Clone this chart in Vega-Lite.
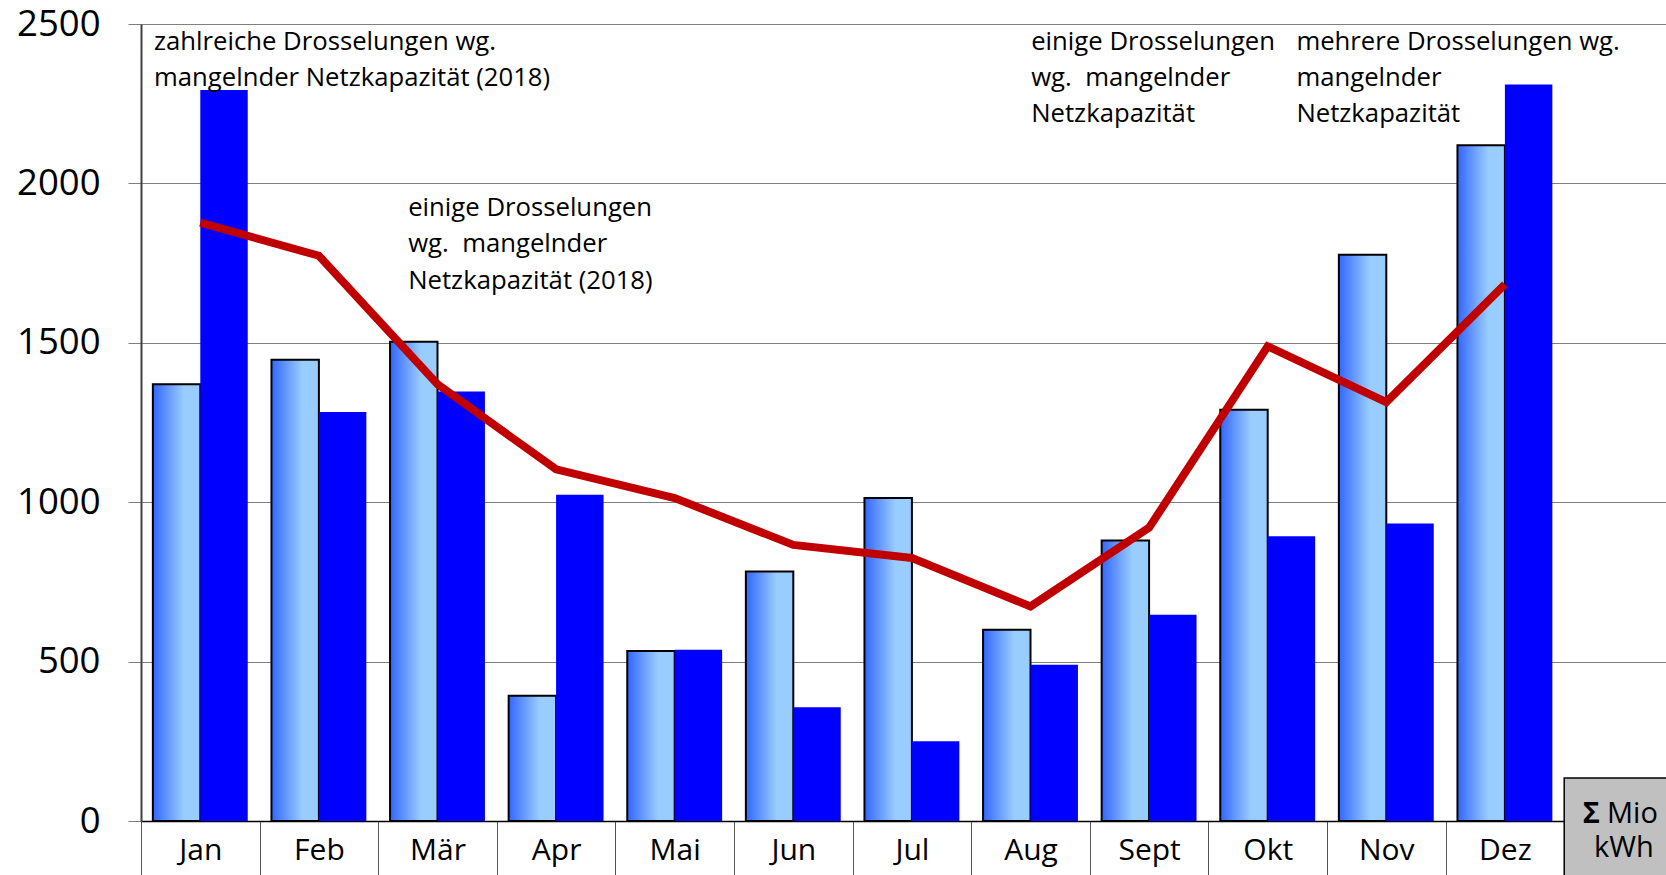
{
  "$schema": "https://vega.github.io/schema/vega-lite/v6.json",
  "width": 1525,
  "height": 797,
  "autosize": {"type": "none"},
  "padding": {"left": 141, "top": 24, "right": 0, "bottom": 54},
  "background": "white",
  "config": {
    "view": {"stroke": null},
    "font": "Open Sans",
    "text": {"font": "Open Sans", "color": "#000000"}
  },
  "datasets": {
    "bars": [
      {"month": "Jan", "series": "A", "value": 1370},
      {"month": "Jan", "series": "B", "value": 2293},
      {"month": "Feb", "series": "A", "value": 1447},
      {"month": "Feb", "series": "B", "value": 1283},
      {"month": "Mär", "series": "A", "value": 1503},
      {"month": "Mär", "series": "B", "value": 1347},
      {"month": "Apr", "series": "A", "value": 393},
      {"month": "Apr", "series": "B", "value": 1023},
      {"month": "Mai", "series": "A", "value": 533},
      {"month": "Mai", "series": "B", "value": 537},
      {"month": "Jun", "series": "A", "value": 783},
      {"month": "Jun", "series": "B", "value": 357},
      {"month": "Jul", "series": "A", "value": 1013},
      {"month": "Jul", "series": "B", "value": 250},
      {"month": "Aug", "series": "A", "value": 600},
      {"month": "Aug", "series": "B", "value": 490},
      {"month": "Sept", "series": "A", "value": 880},
      {"month": "Sept", "series": "B", "value": 647},
      {"month": "Okt", "series": "A", "value": 1290},
      {"month": "Okt", "series": "B", "value": 893},
      {"month": "Nov", "series": "A", "value": 1776},
      {"month": "Nov", "series": "B", "value": 933},
      {"month": "Dez", "series": "A", "value": 2120},
      {"month": "Dez", "series": "B", "value": 2310}
    ],
    "line": [
      {"month": "Jan", "value": 1877},
      {"month": "Feb", "value": 1773},
      {"month": "Mär", "value": 1370},
      {"month": "Apr", "value": 1103},
      {"month": "Mai", "value": 1013},
      {"month": "Jun", "value": 866},
      {"month": "Jul", "value": 825},
      {"month": "Aug", "value": 673},
      {"month": "Sept", "value": 920},
      {"month": "Okt", "value": 1489},
      {"month": "Nov", "value": 1314},
      {"month": "Dez", "value": 1683}
    ]
  },
  "layer": [
    {
      "data": {"name": "bars"},
      "transform": [{"filter": "datum.series == 'A'"}],
      "mark": {
        "type": "bar",
        "stroke": "#000000",
        "strokeWidth": 2,
        "fill": {
          "gradient": "linear", "x1": 0, "y1": 0, "x2": 1, "y2": 0,
          "stops": [
            {"offset": 0, "color": "#3366ff"},
            {"offset": 0.65, "color": "#99ccff"},
            {"offset": 1, "color": "#99ccff"}
          ]
        }
      },
      "encoding": {
        "x": {
          "field": "month", "type": "nominal", "sort": null,
          "scale": {"domain": ["Jan","Feb","Mär","Apr","Mai","Jun","Jul","Aug","Sept","Okt","Nov","Dez","Σ"], "range": [0, 1541.8], "paddingInner": 0, "paddingOuter": 0},
          "axis": {
            "title": null, "labelAngle": 0, "grid": false,
            "labelExpr": "datum.value == 'Σ' ? '' : datum.value",
            "labelFont": "Open Sans", "labelFontSize": 30, "labelColor": "#000000",
            "labelBaseline": "middle", "labelPadding": -27,
            "tickBand": "extent", "tickSize": 56, "tickColor": "#555555", "tickWidth": 1,
            "domainColor": "#000000", "domainWidth": 1.5
          }
        },
        "xOffset": {"field": "series", "type": "nominal", "scale": {"domain": ["A", "B"], "paddingInner": 0, "paddingOuter": 0.25}},
        "y": {
          "field": "value", "type": "quantitative",
          "scale": {"domain": [0, 2500], "nice": false},
          "axis": {
            "title": null, "values": [0, 500, 1000, 1500, 2000, 2500], "format": "d",
            "labelFont": "Open Sans", "labelFontSize": 36.5, "labelColor": "#000000", "labelPadding": 28,
            "tickSize": 13, "tickColor": "#7f7f7f", "tickWidth": 1,
            "gridColor": "#7f7f7f", "gridWidth": 1, "gridOpacity": 1,
            "domainColor": "#404040", "domainWidth": 2
          }
        }
      }
    },
    {
      "data": {"name": "bars"},
      "transform": [{"filter": "datum.series == 'B'"}],
      "mark": {"type": "bar", "fill": "#0000ff"},
      "encoding": {
        "x": {"field": "month", "type": "nominal", "sort": null,
          "scale": {"domain": ["Jan","Feb","Mär","Apr","Mai","Jun","Jul","Aug","Sept","Okt","Nov","Dez","Σ"], "range": [0, 1541.8], "paddingInner": 0, "paddingOuter": 0}},
        "xOffset": {"field": "series", "type": "nominal", "scale": {"domain": ["A", "B"], "paddingInner": 0, "paddingOuter": 0.25}},
        "y": {"field": "value", "type": "quantitative"}
      }
    },
    {
      "data": {"name": "line"},
      "mark": {"type": "line", "color": "#c00000", "strokeWidth": 8},
      "encoding": {
        "x": {"field": "month", "type": "nominal", "sort": null,
          "scale": {"domain": ["Jan","Feb","Mär","Apr","Mai","Jun","Jul","Aug","Sept","Okt","Nov","Dez","Σ"], "range": [0, 1541.8], "paddingInner": 0, "paddingOuter": 0}},
        "y": {"field": "value", "type": "quantitative"}
      }
    },
    {
      "data": {"values": [{"month": "Jan", "label": "zahlreiche Drosselungen wg.\nmangelnder Netzkapazität (2018)"}]},
      "mark": {"type": "text", "align": "left", "baseline": "alphabetic", "lineBreak": "\n", "lineHeight": 36, "fontSize": 25.7, "dx": 13},
      "encoding": {
        "x": {"field": "month", "type": "nominal", "bandPosition": 0,
          "scale": {"domain": ["Jan","Feb","Mär","Apr","Mai","Jun","Jul","Aug","Sept","Okt","Nov","Dez","Σ"], "range": [0, 1541.8], "paddingInner": 0, "paddingOuter": 0}},
        "y": {"datum": 2418, "type": "quantitative"},
        "text": {"field": "label"}
      }
    },
    {
      "data": {"values": [{"month": "Mär", "label": "einige Drosselungen\nwg.\u00a0 mangelnder\nNetzkapazität (2018)"}]},
      "mark": {"type": "text", "align": "left", "baseline": "alphabetic", "lineBreak": "\n", "lineHeight": 36.5, "fontSize": 25.7, "dx": 30},
      "encoding": {
        "x": {"field": "month", "type": "nominal", "bandPosition": 0,
          "scale": {"domain": ["Jan","Feb","Mär","Apr","Mai","Jun","Jul","Aug","Sept","Okt","Nov","Dez","Σ"], "range": [0, 1541.8], "paddingInner": 0, "paddingOuter": 0}},
        "y": {"datum": 1898, "type": "quantitative"},
        "text": {"field": "label"}
      }
    },
    {
      "data": {"values": [{"month": "Aug", "label": "einige Drosselungen\nwg.\u00a0 mangelnder\nNetzkapazität"}]},
      "mark": {"type": "text", "align": "left", "baseline": "alphabetic", "lineBreak": "\n", "lineHeight": 36, "fontSize": 25.7, "dx": 60},
      "encoding": {
        "x": {"field": "month", "type": "nominal", "bandPosition": 0,
          "scale": {"domain": ["Jan","Feb","Mär","Apr","Mai","Jun","Jul","Aug","Sept","Okt","Nov","Dez","Σ"], "range": [0, 1541.8], "paddingInner": 0, "paddingOuter": 0}},
        "y": {"datum": 2418, "type": "quantitative"},
        "text": {"field": "label"}
      }
    },
    {
      "data": {"values": [{"month": "Okt", "label": "mehrere Drosselungen wg.\nmangelnder\nNetzkapazität"}]},
      "mark": {"type": "text", "align": "left", "baseline": "alphabetic", "lineBreak": "\n", "lineHeight": 36, "fontSize": 25.7, "dx": 88},
      "encoding": {
        "x": {"field": "month", "type": "nominal", "bandPosition": 0,
          "scale": {"domain": ["Jan","Feb","Mär","Apr","Mai","Jun","Jul","Aug","Sept","Okt","Nov","Dez","Σ"], "range": [0, 1541.8], "paddingInner": 0, "paddingOuter": 0}},
        "y": {"datum": 2418, "type": "quantitative"},
        "text": {"field": "label"}
      }
    },
    {
      "data": {"values": [{"month": "Σ"}]},
      "mark": {"type": "bar", "fill": "#c0c0c0", "stroke": "#000000", "strokeWidth": 1.5, "width": {"band": 1}},
      "encoding": {
        "x": {"field": "month", "type": "nominal",
          "scale": {"domain": ["Jan","Feb","Mär","Apr","Mai","Jun","Jul","Aug","Sept","Okt","Nov","Dez","Σ"], "range": [0, 1541.8], "paddingInner": 0, "paddingOuter": 0}},
        "y": {"datum": 135, "type": "quantitative"},
        "y2": {"datum": -300}
      }
    },
    {
      "data": {"values": [{"month": "Σ", "label": "Σ"}]},
      "mark": {"type": "text", "align": "right", "baseline": "alphabetic", "fontSize": 29, "fontWeight": "bold", "dx": -23.5},
      "encoding": {
        "x": {"field": "month", "type": "nominal",
          "scale": {"domain": ["Jan","Feb","Mär","Apr","Mai","Jun","Jul","Aug","Sept","Okt","Nov","Dez","Σ"], "range": [0, 1541.8], "paddingInner": 0, "paddingOuter": 0}},
        "y": {"datum": -7, "type": "quantitative"},
        "text": {"field": "label"}
      }
    },
    {
      "data": {"values": [{"month": "Σ", "label": "Mio"}]},
      "mark": {"type": "text", "align": "left", "baseline": "alphabetic", "fontSize": 29, "dx": -16.5},
      "encoding": {
        "x": {"field": "month", "type": "nominal",
          "scale": {"domain": ["Jan","Feb","Mär","Apr","Mai","Jun","Jul","Aug","Sept","Okt","Nov","Dez","Σ"], "range": [0, 1541.8], "paddingInner": 0, "paddingOuter": 0}},
        "y": {"datum": -7, "type": "quantitative"},
        "text": {"field": "label"}
      }
    },
    {
      "data": {"values": [{"month": "Σ", "label": "kWh"}]},
      "mark": {"type": "text", "align": "center", "baseline": "alphabetic", "fontSize": 29, "dx": 0.5},
      "encoding": {
        "x": {"field": "month", "type": "nominal",
          "scale": {"domain": ["Jan","Feb","Mär","Apr","Mai","Jun","Jul","Aug","Sept","Okt","Nov","Dez","Σ"], "range": [0, 1541.8], "paddingInner": 0, "paddingOuter": 0}},
        "y": {"datum": -112, "type": "quantitative"},
        "text": {"field": "label"}
      }
    }
  ]
}
